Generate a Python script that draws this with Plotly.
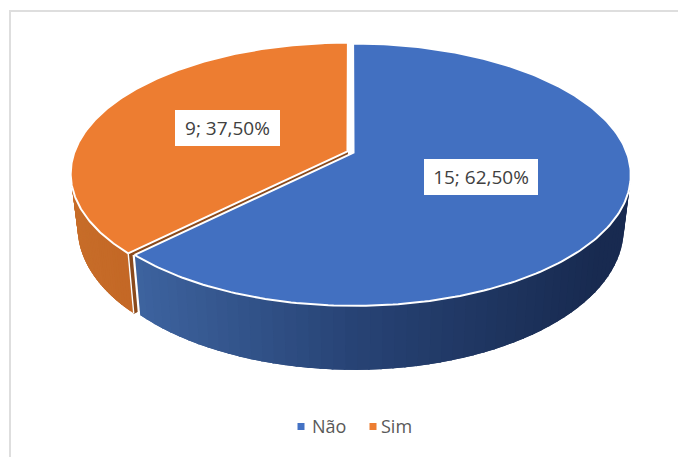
import numpy as np
import plotly.graph_objects as go

labels = ["Não", "Sim"]
values = [15, 9]
text_labels = ["15; 62,50%", "9; 37,50%"]
top_colors = ["#4270C1", "#ED7D31"]
legend_colors = ["#4472C4", "#ED7D31"]

# wall shading stops (position along x, rgb)
wall_stops = {
    0: ([135, 350, 600], [(62, 100, 160), (40, 68, 118), (24, 42, 80)]),
    1: ([71, 130], [(200, 110, 42), (196, 104, 38)]),
}
cut_color = "#8A4A1C"

CX, CY = 350.5, 152
A, B, P = 273, 127.3, 0.168
DEPTH, SHRINK_X, STRETCH_Y = 52.5, 0.975, 1.075
EXPLODE = 0.012


def proj(deg, r, level, mid):
    t = np.radians(deg)
    m = np.radians(mid)
    u = r * np.sin(t) + EXPLODE * np.sin(m)
    v = -r * np.cos(t) - EXPLODE * np.cos(m)
    s = 1 / (1 - P * v)
    kx = SHRINK_X if level else 1
    ky = STRETCH_Y if level else 1
    return CX + A * u * s * kx, CY + DEPTH * level + B * v * s * ky


fig = go.Figure()


def poly(x, y, fill, line=None, w=1.0):
    fig.add_trace(go.Scatter(x=list(x), y=list(y), mode="lines", fill="toself",
                             fillcolor=fill, line=dict(color=line or fill, width=w),
                             showlegend=False, hoverinfo="skip"))


def edge(x, y, w=1.6):
    fig.add_trace(go.Scatter(x=list(x), y=list(y), mode="lines",
                             line=dict(color="white", width=w),
                             showlegend=False, hoverinfo="skip"))


total = sum(values)
sweeps = [v / total * 360 for v in values]
spans = [(0, sweeps[0]), (sweeps[0], 360)]
mids = [(a + b) / 2 for a, b in spans]
draw_order = [1, 0]

for i in draw_order:
    a0, a1 = spans[i]
    mid = mids[i]
    xs_stop, col_stop = wall_stops[i]
    # outer wall, front-facing part only; painted from the far end so each band overlaps the last
    vis0, vis1 = max(a0, 75), min(a1, 290)
    angs = np.linspace(vis0, vis1, 70)
    for d0, d1 in zip(angs[:-1], angs[1:]):
        x00, y00 = proj(d0, 1, 0, mid)
        x01, y01 = proj(min(d1 + 2.5, vis1), 1, 0, mid)
        x10, y10 = proj(d0, 1, 1, mid)
        x11, y11 = proj(min(d1 + 2.5, vis1), 1, 1, mid)
        xm = (x00 + proj(d1, 1, 1, mid)[0]) / 2
        c = [int(np.interp(xm, xs_stop, [s[j] for s in col_stop])) for j in range(3)]
        poly([x00, x01, x11, x10, x00], [y00, y01, y11, y10, y00], f"rgb({c[0]},{c[1]},{c[2]})", w=0.01)
    # cut face of the orange slice, seen through the gap
    if i == 1:
        pts = [proj(a0, 0, 0, mid), proj(a0, 1, 0, mid), proj(a0, 1, 1, mid), proj(a0, 0, 1, mid)]
        poly([p[0] for p in pts] + [pts[0][0]], [p[1] for p in pts] + [pts[0][1]], cut_color)
        e0, e1 = proj(a0, 1, 0, mid), proj(a0, 1, 1, mid)
        edge([e0[0], e1[0]], [e0[1], e1[1]], 1.4)
    else:
        e0, e1 = proj(a1, 1, 0, mid), proj(a1, 1, 1, mid)
        edge([e0[0] - 1, e1[0] - 1], [e0[1], e1[1]], 2.2)
    # top face
    angs = np.linspace(a0, a1, 240)
    pts = [proj(d, 1, 0, mid) for d in angs] + [proj(a0, 0, 0, mid)]
    pts.append(pts[0])
    poly([p[0] for p in pts], [p[1] for p in pts], top_colors[i], line="white", w=2)

annotations = []
label_width = [102, 93]
for i in range(2):
    x, y = proj(mids[i], 0.49, 0, mids[i])
    annotations.append(dict(x=x, y=y, xref="x", yref="y", text=text_labels[i], showarrow=False,
                            font=dict(family="Open Sans", size=19, color="#404040"),
                            width=label_width[i], height=24,
                            bgcolor="white", borderpad=6, borderwidth=0))

legend_text_x = [310, 379]
legend_marker_x = [301, 373]
shapes = [
    dict(type="line", xref="x", yref="y", x0=10, x1=10, y0=10, y1=457, line=dict(color="#DEDEDE", width=2)),
    dict(type="line", xref="x", yref="y", x0=9, x1=678, y0=11, y1=11, line=dict(color="#DEDEDE", width=2)),
]
for i in range(2):
    annotations.append(dict(x=legend_text_x[i], y=426, xref="x", yref="y", xanchor="left", text=labels[i],
                            showarrow=False, font=dict(family="Open Sans", size=18, color="#595959")))
    shapes.append(dict(type="rect", xref="x", yref="y", x0=legend_marker_x[i] - 3.5, x1=legend_marker_x[i] + 3.5,
                       y0=423, y1=430, fillcolor=legend_colors[i], line=dict(width=0)))

fig.update_layout(
    width=678, height=457, autosize=False, margin=dict(l=0, r=0, t=0, b=0),
    paper_bgcolor="white", plot_bgcolor="white",
    xaxis=dict(range=[0, 678], visible=False, fixedrange=True),
    yaxis=dict(range=[457, 0], visible=False, fixedrange=True),
    annotations=annotations, shapes=shapes, showlegend=False,
)
fig.write_html("out.html", config={"displayModeBar": False},
               post_script="document.body.style.margin='0';document.body.style.overflow='hidden';")
